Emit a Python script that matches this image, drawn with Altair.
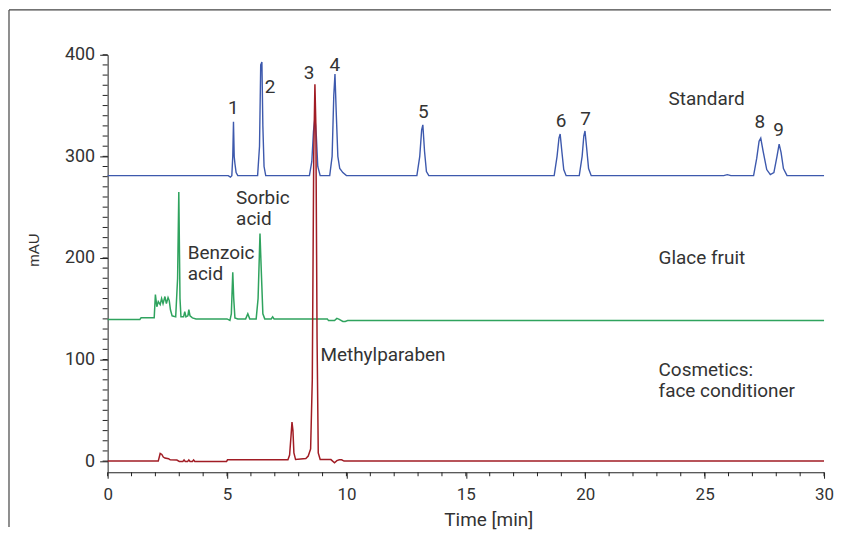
import altair as alt
import pandas as pd

# ---------------- data ----------------
# Standard (blue)
std_t = [0, 5.05, 5.14, 5.2, 5.24, 5.27, 5.3, 5.33, 5.38, 5.45,
         6.28, 6.36, 6.41, 6.46, 6.5, 6.55, 6.62,
         8.45, 8.55, 8.62, 8.68, 8.74, 8.8, 8.9,
         9.3, 9.4, 9.47, 9.52, 9.57, 9.64, 9.72, 9.85, 10.0,
         12.95, 13.07, 13.15, 13.2, 13.27, 13.35, 13.45,
         18.7, 18.82, 18.9, 18.95, 19.02, 19.1, 19.2,
         19.75, 19.87, 19.94, 19.99, 20.06, 20.14, 20.25,
         25.8, 25.95, 26.1,
         27.05, 27.18, 27.28, 27.35, 27.45, 27.6, 27.75,
         27.9, 28.03, 28.12, 28.2, 28.3, 28.45, 30]
std_v = [281, 281, 279.5, 281, 300, 334, 300, 293, 284, 281,
         281, 310, 390, 393, 330, 290, 281,
         281, 295, 325, 338, 320, 290, 281,
         281, 300, 360, 381, 345, 300, 288, 284, 281,
         281, 300, 326, 331, 305, 285, 281,
         281, 300, 318, 322, 305, 287, 281,
         281, 300, 320, 325, 308, 288, 281,
         281, 282, 281,
         281, 298, 315, 318, 305, 287, 282,
         284, 300, 312, 304, 288, 281, 281]

# Glace fruit (green)
gla_t = [0, 1.35, 1.4, 1.95, 2.0, 2.06, 2.12, 2.2, 2.26, 2.32, 2.4, 2.46, 2.53,
         2.58, 2.63, 2.7, 2.85, 2.93, 2.98, 3.03, 3.07, 3.18, 3.23, 3.28, 3.36,
         3.4, 3.45, 3.55, 3.7, 5.0, 5.12, 5.18, 5.24, 5.28, 5.33, 5.45, 5.78,
         5.87, 5.95, 6.22, 6.3, 6.38, 6.43, 6.5, 6.58, 6.85, 6.91, 6.97, 9.2,
         9.25, 9.5, 9.6, 9.7, 9.85, 9.95, 10.05, 30]
gla_v = [139.5, 139.5, 141, 141, 164, 152, 157, 154, 160, 155, 162, 155, 161,
         158, 149, 143, 142, 180, 265, 160, 142, 142, 147, 142, 143,
         149, 143, 141, 140, 140, 138.5, 145, 186, 160, 141, 140, 140,
         145, 140, 140, 160, 224, 190, 145, 140, 140, 142, 140, 140,
         138.3, 138.3, 140.5, 139.5, 137.5, 137.5, 138.3, 138.3]

# Cosmetics: face conditioner (red)
cos_t = [0, 2.12, 2.2, 2.27, 2.33, 2.4, 2.55, 2.62, 2.9, 3.0, 3.15, 3.2, 3.25,
         3.35, 3.4, 3.45, 3.55, 3.6, 3.65, 4.98, 5.02, 7.55, 7.62, 7.68, 7.72,
         7.76, 7.8, 7.87, 8.3, 8.4, 8.5, 8.57, 8.63, 8.68, 8.72, 8.77, 8.82,
         8.9, 9.35, 9.5, 9.6, 9.7, 9.8, 9.9, 30]
cos_v = [0, 0, 7.5, 6.5, 4, 3, 2.3, 1.2, 1.0, -0.3, -0.3, 1.2, -0.3,
         -0.3, 1.2, -0.3, -0.3, 1.2, -0.3, -0.3, 1.3, 1.3, 6, 25, 38.5,
         30, 8, 1.5, 2.5, 5, 12, 80, 300, 371, 330, 120, 8,
         1.5, 1.5, -1.6, 0.5, 1.3, 1.3, 0, 0]

# annotations
peak_labels = ["1", "2", "3", "4", "5", "6", "7", "8", "9"]
peak_t = [5.26, 6.8, 8.44, 9.51, 13.22, 18.99, 20.01, 27.31, 28.1]
peak_v = [342, 362, 376, 384, 338, 329, 331, 328, 320.5]

note_text = ["Standard", "Glace fruit", "Cosmetics:\nface conditioner",
             "Methylparaben", "Sorbic\nacid", "Benzoic\nacid"]
note_t = [23.49, 23.07, 23.07, 8.91, 5.38, 3.35]
note_v = [350.8, 193.8, 83.4, 99, 253.5, 198.5]

x_major = [0, 5, 10, 15, 20, 25, 30]
x_minor = list(range(0, 31))
y_major = [0, 100, 200, 300, 400]
y_minor = list(range(0, 401, 10))

# ---------------- chart ----------------
FONT = "Roboto, 'Liberation Sans', sans-serif"
W, H = 719, 419
xs = alt.Scale(domain=[0, 30], nice=False, zero=False)
ys = alt.Scale(domain=[-11, 400], nice=False, zero=False)

x_axis = alt.Axis(values=x_major, tickSize=6, labelPadding=8, labelFontSize=17,
                  labelFont=FONT, labelColor="#333", labelFlush=False,
                  domainColor="#222", tickColor="#222", grid=False,
                  title="Time [min]", titleFont=FONT, titleFontSize=19,
                  titleFontWeight="normal", titleColor="#333",
                  titleX=382, titleY=53, titleBaseline="alphabetic")
y_axis = alt.Axis(values=y_major, tickSize=8, labelPadding=5, labelFontSize=18,
                  labelFont=FONT, labelColor="#333", labelFlush=False,
                  domainColor="#222", tickColor="#222", grid=False, title=None)


def X():
    return alt.X("t:Q", scale=xs, axis=x_axis)


def Y():
    return alt.Y("v:Q", scale=ys, axis=y_axis)


std = pd.DataFrame({"t": std_t, "v": std_v})
gla = pd.DataFrame({"t": gla_t, "v": gla_v})
cos = pd.DataFrame({"t": cos_t, "v": cos_v})

blue_line = alt.Chart(std).mark_line(color="#3d59ad", strokeWidth=1.4).encode(x=X(), y=Y())
green_line = alt.Chart(gla).mark_line(color="#2fa35e", strokeWidth=1.5).encode(x=X(), y=Y())
red_line = alt.Chart(cos).mark_line(color="#a11c24", strokeWidth=1.5).encode(x=X(), y=Y())

xminor = alt.Chart(pd.DataFrame({"t": x_minor})).mark_rule(
    color="#222", strokeWidth=1).encode(
    x=X(), y=alt.value(H), y2=alt.value(H + 4))
yminor = alt.Chart(pd.DataFrame({"v": y_minor})).mark_rule(
    color="#222", strokeWidth=1).encode(
    y=Y(), x=alt.value(-5), x2=alt.value(0))

peaks = alt.Chart(pd.DataFrame({"lab": peak_labels, "t": peak_t, "v": peak_v})).mark_text(
    font=FONT, fontSize=19, color="#333", align="center", baseline="alphabetic").encode(
    x=X(), y=Y(), text="lab:N")
notes = alt.Chart(pd.DataFrame({"lab": note_text, "t": note_t, "v": note_v})).mark_text(
    font=FONT, fontSize=19, color="#333", align="left", baseline="alphabetic",
    lineBreak="\n", lineHeight=21).encode(
    x=X(), y=Y(), text="lab:N")

ytitle = alt.Chart(pd.DataFrame({"lab": ["mAU"]})).mark_text(
    font="'Liberation Sans', Arial, sans-serif", fontSize=15, color="#333",
    angle=270, align="center", baseline="middle").encode(
    x=alt.value(-74), y=alt.value(196), text="lab:N")

one = pd.DataFrame({"a": [0]})
frame_left = alt.Chart(one).mark_rule(color="#444", strokeWidth=1.2).encode(
    x=alt.value(-99), y=alt.value(-45), y2=alt.value(474))
frame_top = alt.Chart(one).mark_rule(color="#444", strokeWidth=1.2).encode(
    x=alt.value(-99), x2=alt.value(726), y=alt.value(-45))

chart = alt.layer(
    blue_line, green_line, red_line, xminor, yminor, peaks, notes,
    ytitle, frame_left, frame_top,
).properties(width=W, height=H, padding=0).configure_view(stroke=None)

chart.save("out.html", embed_options={"renderer": "svg", "actions": False})
